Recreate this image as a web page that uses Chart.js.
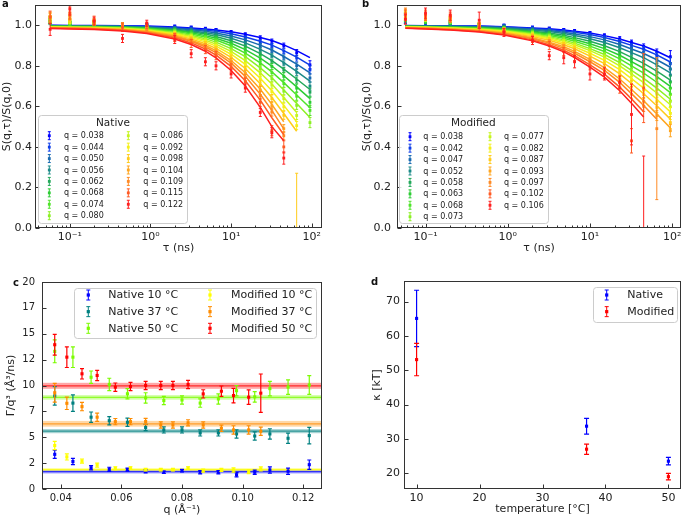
<!DOCTYPE html>
<html>
<head>
<meta charset="utf-8">
<title>Dynamics figure</title>
<script src="https://cdn.jsdelivr.net/npm/chart.js@4/dist/chart.umd.min.js"></script>
<style>
  html, body { margin: 0; padding: 0; background: #fff; }
  #fig { position: relative; width: 685px; height: 520px; overflow: hidden; font-family: "DejaVu Sans", sans-serif; }
  #fig canvas { position: absolute; }
  .tag { position: absolute; font-weight: bold; font-size: 10px; line-height: 10px; color: #111; }
</style>
</head>
<body>
<div id="fig">
  <canvas id="panelA" width="330" height="262" style="left:0px;top:0px"></canvas>
  <canvas id="panelB" width="335" height="262" style="left:350px;top:0px"></canvas>
  <canvas id="panelC" width="330" height="258" style="left:0px;top:262px"></canvas>
  <canvas id="panelD" width="335" height="258" style="left:350px;top:262px"></canvas>
  <div class="tag" style="left:2px;top:-1px">a</div>
  <div class="tag" style="left:362px;top:-1px">b</div>
  <div class="tag" style="left:13px;top:278px">c</div>
  <div class="tag" style="left:371px;top:277px">d</div>
</div>
<script>
"use strict"

// ---------- panels a + b : S(q,tau)/S(q,0) ----------
// delay times (ns), one grid for all q
const tauGrid = [0.057, 0.1, 0.2, 0.45, 0.9, 2, 3.2, 4.8, 6.5, 10, 15, 23, 32, 45, 65, 95];

const qNative = [0.038, 0.044, 0.050, 0.056, 0.062, 0.068, 0.074, 0.080, 0.086, 0.092, 0.098, 0.104, 0.109, 0.115, 0.122];
const qModified = [0.038, 0.042, 0.047, 0.052, 0.058, 0.063, 0.068, 0.073, 0.077, 0.082, 0.087, 0.093, 0.097, 0.102, 0.106];

// fitted curves (native)
const nativeFit = [
  [1.0, .999, .999, .998, .996, .991, .987, .982, .977, .968, .956, .940, .925, .903, .875, .840],
  [.999, .998, .998, .997, .994, .988, .983, .976, .970, .958, .942, .921, .902, .875, .843, .803],
  [.998, .997, .997, .995, .992, .985, .978, .970, .962, .947, .928, .902, .878, .846, .808, .765],
  [.997, .996, .996, .994, .990, .981, .973, .963, .954, .936, .913, .881, .853, .816, .773, .725],
  [.996, .995, .994, .992, .987, .977, .968, .957, .945, .924, .897, .860, .826, .784, .735, .683],
  [.995, .994, .993, .990, .985, .974, .963, .949, .936, .911, .880, .838, .799, .751, .696, .638],
  [.994, .993, .992, .989, .983, .970, .957, .942, .927, .899, .863, .814, .770, .717, .656, .593],
  [.993, .992, .990, .987, .980, .965, .951, .934, .917, .885, .845, .790, .741, .681, .614, .545],
  [.992, .990, .989, .985, .977, .961, .945, .926, .907, .871, .826, .765, .710, .644, .570, null],
  [.991, .989, .987, .983, .974, .957, .939, .918, .897, .857, .807, .739, .677, .605, .524, null],
  [.989, .988, .986, .981, .972, .952, .933, .909, .886, .842, .787, .712, .644, .565, .477, null],
  [.988, .986, .984, .979, .969, .947, .926, .900, .875, .826, .766, .684, .610, .524, null, null],
  [.987, .985, .983, .977, .966, .943, .921, .893, .865, .813, .748, .660, .580, .489, null, null],
  [.986, .984, .981, .975, .963, .938, .913, .883, .853, .797, .726, .631, .544, .460, null, null],
  [.984, .982, .979, .972, .959, .932, .905, .872, .839, .777, .700, .595, .500, .430, null, null]
];
// measured points (native)
const nativeData = [
  [1.02, 1.01, 1.01, 1.005, 1.0, .995, .99, .984, .978, .966, .955, .938, .922, .90, .865, .805],
  [1.02, 1.01, 1.01, 1.004, 1.0, .99, .985, .978, .971, .957, .94, .918, .90, .872, .838, .78],
  [1.015, 1.01, 1.01, 1.003, .998, .988, .98, .972, .962, .946, .926, .90, .876, .842, .80, .74],
  [1.02, 1.01, 1.008, 1.0, .995, .984, .975, .964, .955, .935, .911, .878, .85, .812, .768, .70],
  [1.02, 1.01, 1.008, 1.0, .993, .98, .97, .958, .946, .922, .895, .858, .823, .78, .73, .67],
  [1.025, 1.01, 1.01, 1.0, .99, .976, .965, .95, .936, .91, .878, .835, .797, .748, .69, .62],
  [1.02, 1.01, 1.01, 1.0, .99, .972, .958, .942, .926, .897, .86, .81, .766, .712, .65, .58],
  [1.03, 1.015, 1.01, 1.0, .988, .968, .952, .934, .916, .882, .842, .786, .736, .675, .605, .52],
  [1.03, 1.02, 1.012, 1.0, .985, .963, .946, .926, .905, .868, .822, .76, .705, .638, .555, null],
  [1.03, 1.02, 1.015, 1.0, .985, .96, .94, .918, .895, .853, .803, .734, .672, .598, .505, null],
  [1.04, 1.03, 1.015, 1.0, .982, .955, .934, .908, .883, .838, .782, .706, .638, .556, -0.03, null],
  [1.04, 1.04, 1.02, 1.0, .98, .95, .927, .898, .872, .822, .76, .678, .603, .49, null, null],
  [1.045, 1.05, 1.02, 1.0, .975, .945, .92, .89, .862, .808, .742, .653, .572, .455, null, null],
  [1.04, 1.06, 1.025, .99, 1.0, .94, .91, .88, .85, .79, .72, .62, .48, .40, null, null],
  [.98, 1.08, 1.02, .935, 1.01, .93, .86, .82, .80, .76, .69, .57, .47, .345, null, null]
];
const errN1 = [0.012, 0.008, 0.008, 0.008, 0.008, 0.006, 0.006, 0.006, 0.006, 0.008, 0.008, 0.01, 0.01, 0.012, 0.015, 0.02];
const errN2 = [0.015, 0.01, 0.01, 0.01, 0.01, 0.008, 0.008, 0.008, 0.01, 0.01, 0.012, 0.015, 0.015, 0.018, 0.02, 0.025];
const errN3 = [0.02, 0.015, 0.012, 0.012, 0.012, 0.01, 0.01, 0.012, 0.012, 0.015, 0.015, 0.02, 0.02, 0.02, 0.30, null];
const errN4 = [0.03, 0.03, 0.02, 0.02, 0.015, 0.02, 0.02, 0.02, 0.02, 0.02, 0.02, 0.02, 0.025, 0.03, null, null];
const nativeErr = [errN1, errN1, errN1, errN1, errN1, errN2, errN2, errN2, errN2, errN2, errN3, errN3, errN3, errN4, errN4];

// fitted curves (modified)
const modFit = [
  [.999, .998, .997, .996, .993, .987, .983, .977, .971, .962, .949, .932, .915, .898, .872, .840],
  [.998, .997, .996, .995, .991, .984, .979, .972, .965, .954, .940, .920, .901, .882, .854, .819],
  [.998, .996, .995, .993, .989, .980, .974, .966, .957, .944, .928, .905, .883, .861, .830, .793],
  [.997, .995, .994, .991, .986, .976, .969, .959, .949, .934, .915, .889, .865, .840, .805, .765],
  [.996, .994, .992, .989, .983, .971, .962, .951, .939, .921, .899, .870, .842, .812, .774, .730],
  [.995, .993, .991, .987, .980, .967, .956, .943, .930, .909, .885, .852, .821, .788, .747, .699],
  [.994, .992, .989, .985, .977, .963, .950, .936, .921, .897, .871, .834, .800, .764, .719, .668],
  [.993, .991, .988, .983, .974, .958, .944, .928, .912, .885, .856, .816, .778, .738, .690, .635],
  [.992, .990, .987, .981, .972, .954, .939, .921, .904, .875, .843, .800, .760, .717, .666, .608],
  [.991, .989, .985, .979, .969, .949, .933, .913, .894, .862, .827, .781, .737, .690, .635, .573],
  [.990, .987, .984, .977, .965, .944, .926, .904, .884, .848, .811, .760, .713, .662, .603, .537],
  [.988, .986, .982, .974, .961, .938, .917, .894, .871, .832, .791, .735, .683, .628, .563, .493],
  [.987, .985, .980, .972, .959, .933, .912, .886, .862, .820, .777, .718, .663, .604, .536, null],
  [.986, .983, .978, .969, .955, .928, .904, .877, .850, .805, .759, .695, .637, .573, null, null],
  [.985, .982, .977, .967, .952, .923, .898, .869, .841, .793, .744, .677, .615, .548, null, null]
];
// measured points (modified)
const modData = [
  [1.03, 1.01, 1.01, 1.0, .998, .99, .985, .978, .973, .963, .95, .934, .917, .896, .868, .845],
  [1.03, 1.01, 1.01, 1.0, .996, .986, .98, .972, .966, .955, .94, .92, .90, .882, .85, .81],
  [1.03, 1.02, 1.01, 1.0, .994, .982, .975, .966, .957, .944, .928, .905, .882, .86, .826, .785],
  [1.035, 1.02, 1.01, 1.0, .99, .978, .97, .96, .95, .934, .915, .89, .865, .838, .80, .755],
  [1.04, 1.02, 1.015, 1.0, .988, .973, .963, .952, .94, .921, .899, .87, .84, .81, .77, .72],
  [1.04, 1.02, 1.015, 1.0, .985, .97, .958, .944, .931, .909, .886, .852, .82, .785, .742, .69],
  [1.04, 1.03, 1.02, 1.0, .984, .966, .952, .937, .922, .897, .871, .834, .798, .76, .714, .66],
  [1.045, 1.03, 1.02, 1.0, .982, .962, .947, .93, .913, .884, .856, .815, .776, .735, .684, .625],
  [1.05, 1.03, 1.025, 1.0, .98, .958, .942, .922, .905, .874, .843, .80, .758, .714, .66, .598],
  [1.05, 1.04, 1.03, 1.0, .978, .953, .936, .914, .895, .861, .826, .78, .735, .686, .628, .565],
  [1.055, 1.04, 1.03, 1.0, .975, .948, .929, .905, .885, .847, .81, .758, .71, .658, .595, .52],
  [1.06, 1.04, 1.035, 1.0, .97, .942, .92, .895, .872, .83, .79, .733, .68, .624, .555, .48],
  [1.06, 1.05, 1.04, 1.0, .968, .937, .915, .887, .862, .818, .776, .716, .66, .60, .49, null],
  [1.05, 1.05, 1.04, .99, .97, .93, .90, .87, .845, .80, .757, .69, .43, .69, null, null],
  [1.03, 1.06, 1.05, 1.025, .965, .925, .85, .84, .82, .76, .76, .72, .56, -0.1, null, null]
];
const errM1 = [0.02, 0.01, 0.01, 0.008, 0.008, 0.006, 0.006, 0.006, 0.006, 0.006, 0.008, 0.01, 0.01, 0.012, 0.015, 0.03];
const errM2 = [0.02, 0.012, 0.01, 0.01, 0.008, 0.008, 0.008, 0.008, 0.008, 0.01, 0.01, 0.012, 0.012, 0.015, 0.018, 0.03];
const errM3 = [0.02, 0.015, 0.012, 0.012, 0.01, 0.01, 0.01, 0.01, 0.012, 0.012, 0.015, 0.015, 0.018, 0.02, 0.025, 0.03];
const errM4 = [0.025, 0.02, 0.015, 0.015, 0.012, 0.012, 0.012, 0.015, 0.015, 0.015, 0.018, 0.02, 0.02, 0.025, 0.35, null];
const errM5 = [0.025, 0.025, 0.025, 0.02, 0.015, 0.015, 0.02, 0.02, 0.02, 0.02, 0.02, 0.025, 0.06, 0.17, null, null];
const errM6 = [0.025, 0.025, 0.025, 0.04, 0.02, 0.02, 0.02, 0.03, 0.03, 0.03, 0.03, 0.03, 0.15, 0.455, null, null];
const modErr = [errM1, errM1, errM1, errM1, errM1, errM2, errM2, errM2, errM2, errM2, errM3, errM3, errM4, errM5, errM6];

// ---------- panel c : Gamma/q^3 ----------
const gNat10 = [3.35, 2.65, 2.05, 1.9, 1.87, 1.7, 1.62, 1.77, 1.62, 1.62, 1.38, 1.62, 1.84, 1.72, 2.35];
const eNat10 = [0.4, 0.3, 0.2, 0.2, 0.15, 0.15, 0.12, 0.12, 0.15, 0.15, 0.2, 0.2, 0.3, 0.3, 0.45];
const gNat37 = [9.0, 8.3, 6.94, 6.6, 6.45, 5.94, 5.71, 5.71, 5.42, 5.42, 5.32, 5.12, 5.32, 4.9, 5.16];
const eNat37 = [0.9, 0.8, 0.5, 0.4, 0.4, 0.3, 0.3, 0.3, 0.3, 0.3, 0.4, 0.4, 0.5, 0.5, 0.8];
const gNat50 = [13.3, 12.74, 10.8, 10.1, 9.2, 8.8, 8.55, 8.6, 8.3, 8.7, 9.5, 8.9, 9.7, 9.85, 10.05];
const eNat50 = [1.1, 1.0, 0.6, 0.6, 0.5, 0.5, 0.4, 0.4, 0.4, 0.5, 0.5, 0.5, 0.7, 0.7, 0.9];
const gMod10 = [4.2, 3.1, 2.7, 2.3, 2.0, 2.03, 1.87, 1.87, 1.87, 2.03, 1.77, 1.84, 1.84, 1.68, 1.94];
const eMod10 = [0.4, 0.3, 0.2, 0.2, 0.15, 0.12, 0.12, 0.12, 0.12, 0.12, 0.15, 0.15, 0.2, 0.2, 0.2];
const gMod37 = [9.3, 8.28, 7.96, 6.94, 6.51, 6.51, 6.52, 6.19, 6.19, 6.39, 6.19, 5.87, 5.71, 5.71, 5.58];
const eMod37 = [0.9, 0.6, 0.4, 0.4, 0.3, 0.3, 0.3, 0.3, 0.3, 0.3, 0.3, 0.3, 0.4, 0.4, 0.4];
const gMod50 = [13.94, 12.74, 11.13, 10.97, 9.84, 9.9, 10.0, 10.0, 10.0, 10.1, 9.19, 9.45, 9.03, 8.87, 9.26];
const eMod50 = [1.0, 1.0, 0.5, 0.5, 0.4, 0.4, 0.4, 0.4, 0.4, 0.4, 0.4, 0.5, 0.7, 0.7, 1.85];
// mean value bands (nat10, nat37, nat50, mod10, mod37, mod50)
const bandMean = [1.68, 5.59, 8.85, 1.88, 6.30, 9.97];
const bandSigma = [0.18, 0.2, 0.22, 0.15, 0.28, 0.29];

// ---------- panel d : bending rigidity ----------
const temps = [10, 37, 50];
const kappaNative = [65.1, 33.7, 23.5];
const kappaNativeErr = [8.2, 2.3, 1.1];
const kappaMod = [53.1, 27.0, 19.0];
const kappaModErr = [4.7, 1.5, 0.95];

// ---------- ticks ----------
const tauMajor = [0.1, 1, 10, 100];
const tauMajorLabels = ['10⁻¹', '10⁰', '10¹', '10²'];
const sTicks = [0, 0.2, 0.4, 0.6, 0.8, 1.0];
const sTickLabels = ['0.0', '0.2', '0.4', '0.6', '0.8', '1.0'];
const gammaTicks = [0, 2.5, 5, 7.5, 10, 12.5, 15, 17.5, 20];
const gammaTickLabels = ['0', '2', '5', '7', '10', '12', '15', '17', '20'];
const qTicks = [0.04, 0.06, 0.08, 0.10, 0.12];
const qTickLabels = ['0.04', '0.06', '0.08', '0.10', '0.12'];
const tempTicks = [10, 20, 30, 40, 50];
const kappaTicks = [20, 30, 40, 50, 60, 70];

// colours
const rainbow = ['#0000ff', '#0d3ee8', '#1769b0', '#1b8a88', '#22a85a', '#2ccc34', '#4fe42a', '#8cf025',
                 '#c6f51f', '#f5f01a', '#ffcb1a', '#ffa51f', '#ff8a24', '#ff5a24', '#ff1f1f'];
const cNat10 = '#0000ff', cNat37 = '#008080', cNat50 = '#7cfc00';
const cMod10 = '#ffff00', cMod37 = '#ff8c00', cMod50 = '#ff0000';

Chart.defaults.font.family = '"DejaVu Sans", sans-serif';
Chart.defaults.font.size = 11;
Chart.defaults.color = '#222';

function logTicks() {
  const out = [];
  [0.01, 0.1, 1, 10, 100].forEach(dec => {
    for (let k = 1; k <= 9; k++) {
      const i = tauMajor.indexOf(dec);
      out.push({ v: +(dec * k).toPrecision(3), label: (k === 1 && i >= 0) ? tauMajorLabels[i] : '', minor: k > 1 });
    }
  });
  return out;
}
function plainTicks(vals, labels) {
  return vals.map((v, i) => ({ v: v, label: labels ? labels[i] : String(v), minor: false }));
}

function scaleOpts(o) {
  return {
    type: o.log ? 'logarithmic' : 'linear',
    position: o.pos,
    min: o.min, max: o.max,
    grid: { display: false, drawTicks: false },
    border: { display: false },
    afterBuildTicks: s => {
      s.ticks = o.ticks.filter(t => t.v >= s.min - 1e-9 && t.v <= s.max + 1e-9)
        .map(t => ({ value: t.v, lab: t.label, minor: t.minor }));
    },
    ticks: { autoSkip: false, maxRotation: 0, minRotation: 0, padding: o.pad, color: '#222',
      font: { size: o.fontSize || 11 },
      callback: (v, i, ticks) => ticks[i].lab },
    title: { display: true, text: o.title, color: '#222', padding: o.titlePad },
    afterFit: s => {
      if (o.pos === 'left') s.width = o.size; else s.height = o.size;
      // keep the plot box exactly where the layout padding puts it
      s.paddingTop = 0; s.paddingBottom = 0; s.paddingLeft = 0; s.paddingRight = 0;
    }
  };
}

// error bars, drawn right after each dataset
const errorBars = {
  id: 'errorBars',
  afterDatasetDraw(chart, args) {
    const ds = chart.data.datasets[args.index];
    if (!ds.errCap) return;
    const ctx = chart.ctx, a = chart.chartArea;
    const ys = chart.scales[args.meta.yAxisID];
    ctx.save();
    ctx.beginPath();
    ctx.rect(a.left, a.top, a.right - a.left, a.bottom - a.top);
    ctx.clip();
    ctx.strokeStyle = ds.borderColor;
    ctx.lineWidth = ds.errWidth || 1;
    ctx.beginPath();
    args.meta.data.forEach((el, i) => {
      const p = ds.data[i];
      if (p.e == null) return;
      const y1 = ys.getPixelForValue(p.y + p.e), y2 = ys.getPixelForValue(p.y - p.e);
      const c = ds.errCap;
      ctx.moveTo(el.x, y1); ctx.lineTo(el.x, y2);
      ctx.moveTo(el.x - c, y1); ctx.lineTo(el.x + c, y1);
      ctx.moveTo(el.x - c, y2); ctx.lineTo(el.x + c, y2);
    });
    ctx.stroke();
    ctx.restore();
  }
};

// matplotlib-like box with inward ticks
const frame = {
  id: 'frame',
  afterDraw(chart) {
    const ctx = chart.ctx, a = chart.chartArea;
    const L = Math.round(a.left) + 0.5, R = Math.round(a.right) - 0.5;
    const T = Math.round(a.top) + 0.5, B = Math.round(a.bottom) - 0.5;
    ctx.save();
    ctx.strokeStyle = '#333';
    ctx.lineWidth = 1;
    ctx.strokeRect(L, T, R - L, B - T);
    ctx.beginPath();
    chart.scales.x.ticks.forEach(t => {
      const px = Math.round(chart.scales.x.getPixelForValue(t.value)) + 0.5;
      ctx.moveTo(px, B); ctx.lineTo(px, B - (t.minor ? 2 : 4));
    });
    chart.scales.y.ticks.forEach(t => {
      const py = Math.round(chart.scales.y.getPixelForValue(t.value)) + 0.5;
      ctx.moveTo(L, py); ctx.lineTo(L + 4, py);
    });
    ctx.stroke();
    ctx.restore();
  }
};

function drawHandle(ctx, x, y, color, half, cap, dot) {
  ctx.strokeStyle = color;
  ctx.fillStyle = color;
  ctx.lineWidth = 1;
  ctx.beginPath();
  ctx.moveTo(x, y - half); ctx.lineTo(x, y + half);
  ctx.moveTo(x - cap, y - half); ctx.lineTo(x + cap, y - half);
  ctx.moveTo(x - cap, y + half); ctx.lineTo(x + cap, y + half);
  ctx.stroke();
  ctx.fillRect(x - dot, y - dot, 2 * dot, 2 * dot);
}

// legend drawn inside the plot, like matplotlib
function boxLegend(spec) {
  return {
    id: 'boxLegend',
    afterDraw(chart) {
      const ctx = chart.ctx;
      ctx.save();
      ctx.beginPath();
      ctx.roundRect(spec.box[0] + 0.5, spec.box[1] + 0.5, spec.box[2], spec.box[3], 3);
      ctx.fillStyle = 'rgba(255,255,255,0.85)';
      ctx.fill();
      ctx.strokeStyle = '#cccccc';
      ctx.lineWidth = 1;
      ctx.stroke();
      ctx.textBaseline = 'middle';
      if (spec.title) {
        ctx.font = spec.titleSize + 'px "DejaVu Sans"';
        ctx.fillStyle = '#222';
        ctx.textAlign = 'center';
        ctx.fillText(spec.title, spec.titleX, spec.titleY);
      }
      ctx.textAlign = 'left';
      spec.items.forEach((it, k) => {
        const col = Math.floor(k / spec.rows), row = k % spec.rows;
        const y = spec.y0 + row * spec.dy;
        drawHandle(ctx, spec.cols[col][0], y, it.color, spec.half, spec.cap, spec.dot);
        ctx.font = spec.size + 'px "DejaVu Sans"';
        ctx.fillStyle = '#222';
        ctx.fillText(it.text, spec.cols[col][1], y + 0.5);
      });
      ctx.restore();
    }
  };
}

// horizontal mean bands of panel c
function meanBands(colors) {
  return {
    id: 'meanBands',
    beforeDatasetsDraw(chart) {
      const ctx = chart.ctx, a = chart.chartArea, ys = chart.scales.y;
      ctx.save();
      bandMean.forEach((m, i) => {
        const top = ys.getPixelForValue(m + bandSigma[i]);
        const bot = ys.getPixelForValue(m - bandSigma[i]);
        ctx.globalAlpha = 0.35;
        ctx.fillStyle = colors[i];
        ctx.fillRect(a.left, top, a.right - a.left, bot - top);
        ctx.globalAlpha = 0.75;
        ctx.strokeStyle = colors[i];
        ctx.lineWidth = 1.3;
        ctx.beginPath();
        const y = ys.getPixelForValue(m);
        ctx.moveTo(a.left, y); ctx.lineTo(a.right, y);
        ctx.stroke();
      });
      ctx.restore();
    }
  };
}

function decayChart(canvasId, fits, data, errs, qs, cfg) {
  const datasets = [];
  fits.forEach((fit, i) => {
    const pts = [];
    tauGrid.forEach((t, j) => { if (data[i][j] != null) pts.push({ x: t, y: data[i][j], e: errs[i][j] }); });
    datasets.push({ data: pts, borderColor: rainbow[i], backgroundColor: rainbow[i], pointStyle: 'rect',
      pointRadius: 2, pointBorderWidth: 0, showLine: false, errCap: 1.5, errWidth: 1, order: -datasets.length });
    const line = [];
    tauGrid.forEach((t, j) => { if (fit[j] != null) line.push({ x: t, y: fit[j] }); });
    datasets.push({ data: line, borderColor: rainbow[i], backgroundColor: rainbow[i], borderWidth: 1.5,
      pointRadius: 0, showLine: true, order: -datasets.length });
  });
  const legend = boxLegend(Object.assign({
    items: qs.map((q, i) => ({ text: 'q = ' + q.toFixed(3), color: rainbow[i] })),
    rows: 8, dy: 11.43, size: 8, titleSize: 10.5, half: 4, cap: 1.5, dot: 1.4
  }, cfg.legend));
  new Chart(document.getElementById(canvasId), {
    type: 'scatter',
    data: { datasets: datasets },
    options: {
      responsive: false, animation: false, events: [],
      layout: { padding: { top: 5, right: cfg.padRight, bottom: 0, left: 0 } },
      plugins: { legend: { display: false }, tooltip: { enabled: false } },
      scales: {
        x: scaleOpts({ log: true, pos: 'bottom', min: cfg.xMin, max: cfg.xMax, ticks: logTicks(), pad: 3,
          title: 'τ (ns)', titlePad: { top: 0, bottom: 7 }, size: 34 }),
        y: scaleOpts({ pos: 'left', min: 0, max: 1.1, ticks: plainTicks(sTicks, sTickLabels), pad: cfg.yPad,
          title: 'S(q,τ)/S(q,0)', titlePad: { top: cfg.yTitlePad, bottom: 0 }, size: cfg.yWidth })
      }
    },
    plugins: [errorBars, frame, legend]
  });
}

decayChart('panelA', nativeFit, nativeData, nativeErr, qNative, {
  xMin: 0.037, xMax: 134, padRight: 8, yPad: 3, yTitlePad: 1, yWidth: 35,
  legend: { box: [38, 115, 149, 108], title: 'Native', titleX: 113, titleY: 123, y0: 135.7, cols: [[49.3, 64], [128.3, 143.3]] }
});
decayChart('panelB', modFit, modData, modErr, qModified, {
  xMin: 0.045, xMax: 128, padRight: 4, yPad: 6, yTitlePad: 11, yWidth: 47,
  legend: { box: [49, 115, 149, 108], title: 'Modified', titleX: 123.3, titleY: 123.3, y0: 136.7, cols: [[60, 73.3], [140, 154]] }
});

// ---------- panel c ----------
function errSet(xs, ys, es, color, cap) {
  return { data: xs.map((x, i) => ({ x: x, y: ys[i], e: es[i] })), borderColor: color, backgroundColor: color,
    pointStyle: 'rect', pointRadius: 2.2, pointBorderWidth: 0, showLine: false, errCap: cap, errWidth: 1.2 };
}
const cSets = [
  errSet(qNative, gNat10, eNat10, cNat10, 2),
  errSet(qNative, gNat37, eNat37, cNat37, 2),
  errSet(qNative, gNat50, eNat50, cNat50, 2),
  errSet(qModified, gMod10, eMod10, cMod10, 2),
  errSet(qModified, gMod37, eMod37, cMod37, 2),
  errSet(qModified, gMod50, eMod50, cMod50, 2)
];
cSets.forEach((d, i) => { d.order = -i; });
new Chart(document.getElementById('panelC'), {
  type: 'scatter',
  data: { datasets: cSets },
  options: {
    responsive: false, animation: false, events: [],
    layout: { padding: { top: 20, right: 8, bottom: 0, left: 0 } },
    plugins: { legend: { display: false }, tooltip: { enabled: false } },
    scales: {
      x: scaleOpts({ pos: 'bottom', min: 0.0338, max: 0.1262, ticks: plainTicks(qTicks, qTickLabels), pad: 3,
        fontSize: 10, title: 'q (Å⁻¹)', titlePad: { top: 0, bottom: 3 }, size: 31 }),
      y: scaleOpts({ pos: 'left', min: 0, max: 20, ticks: plainTicks(gammaTicks, gammaTickLabels), pad: 7,
        fontSize: 10, title: 'Γ/q³ (Å³/ns)', titlePad: { top: 5, bottom: 0 }, size: 42 })
    }
  },
  plugins: [meanBands([cNat10, cNat37, cNat50, cMod10, cMod37, cMod50]), errorBars, frame,
    boxLegend({ box: [74, 26, 242, 50], rows: 3, dy: 16.65, y0: 33, size: 11, half: 5, cap: 2, dot: 1.6,
      cols: [[88.3, 108.3], [210, 231]],
      items: [{ text: 'Native 10 °C', color: cNat10 }, { text: 'Native 37 °C', color: cNat37 }, { text: 'Native 50 °C', color: cNat50 },
              { text: 'Modified 10 °C', color: cMod10 }, { text: 'Modified 37 °C', color: cMod37 }, { text: 'Modified 50 °C', color: cMod50 }] })]
});

// ---------- panel d ----------
const dSets = [
  errSet(temps, kappaNative, kappaNativeErr, '#0000ff', 2.5),
  errSet(temps, kappaMod, kappaModErr, '#ff0000', 2.5)
];
dSets.forEach((d, i) => { d.order = -i; });
new Chart(document.getElementById('panelD'), {
  type: 'scatter',
  data: { datasets: dSets },
  options: {
    responsive: false, animation: false, events: [],
    layout: { padding: { top: 19, right: 2, bottom: 0, left: 0 } },
    plugins: { legend: { display: false }, tooltip: { enabled: false } },
    scales: {
      x: scaleOpts({ pos: 'bottom', min: 8, max: 52, ticks: plainTicks(tempTicks), pad: 3,
        title: 'temperature [°C]', titlePad: { top: 0, bottom: 4 }, size: 31 }),
      y: scaleOpts({ pos: 'left', min: 15.4, max: 76, ticks: plainTicks(kappaTicks), pad: 4,
        title: 'κ [kT]', titlePad: { top: 21, bottom: 0 }, size: 54 })
    }
  },
  plugins: [errorBars, frame,
    boxLegend({ box: [243, 25, 84, 35], rows: 2, dy: 16.65, y0: 33, size: 11, half: 5, cap: 2, dot: 1.6,
      cols: [[256.7, 277.3]],
      items: [{ text: 'Native', color: '#0000ff' }, { text: 'Modified', color: '#ff0000' }] })]
});
</script>
</body>
</html>
